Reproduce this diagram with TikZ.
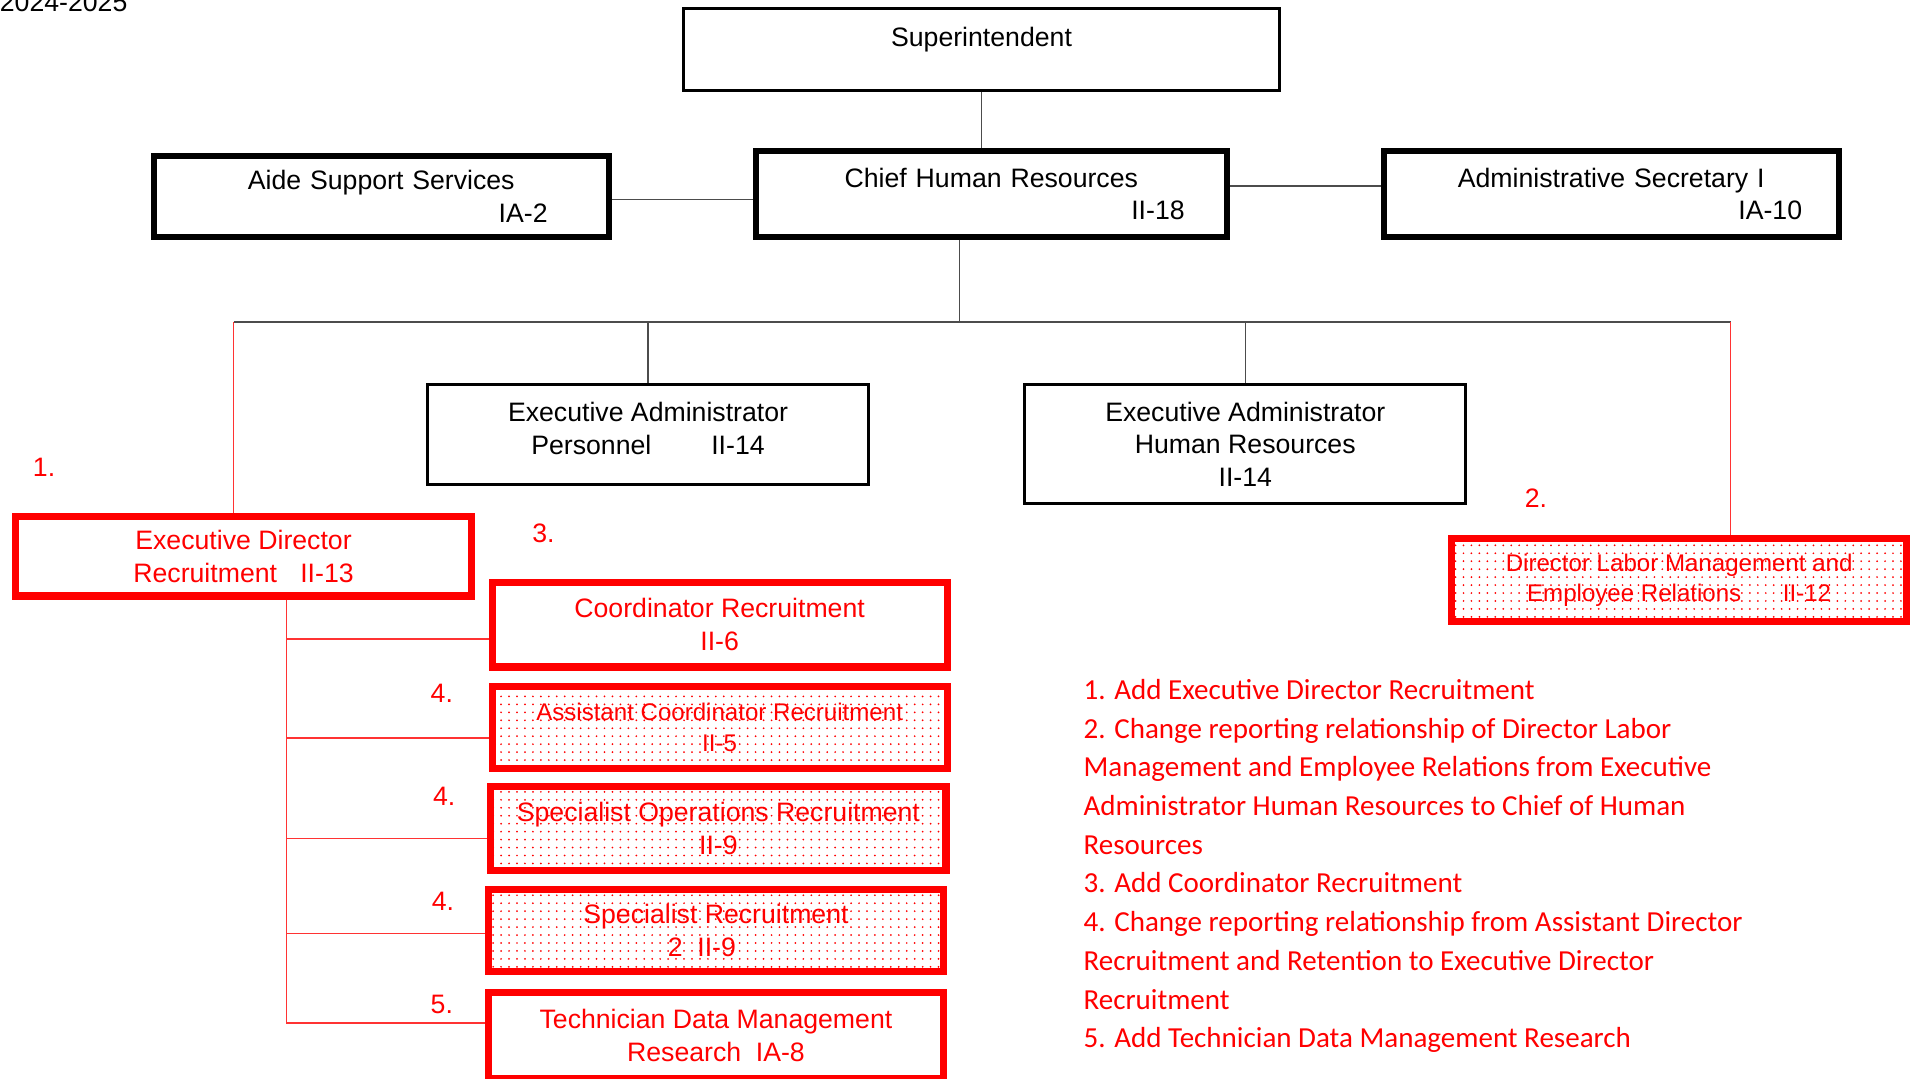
\documentclass[tikz,border=0pt]{standalone}
\usepackage{fontspec}
\setmainfont{Liberation Sans}
\newfontfamily\notefamily{Carlito}
\usetikzlibrary{positioning,calc,patterns.meta}

\newcommand\boxfont{\fontsize{12.4}{15.3}\selectfont}
\newcommand\smallboxfont{\fontsize{11.2}{14.2}\selectfont}
\newcommand\notesfont{\notefamily\fontsize{13.5}{17.9}\selectfont}

\begin{document}
\begin{tikzpicture}[
    x=0.02cm, y=-0.02cm,
    post/.style={rectangle, draw=black, line width=0.1cm, inner sep=0pt, align=center, font=\boxfont},
    thinpost/.style={post, line width=0.05cm},
    newpost/.style={post, draw=red, text=red, line width=0.115cm, minimum width=7.44cm},
    movedpost/.style={newpost, pattern={Dots[distance=0.13cm, radius=0.016cm]}, pattern color=red},
    link/.style={draw=black!70, line width=0.025cm},
    newlink/.style={draw=red!80, line width=0.022cm},
    num/.style={text=red, font=\boxfont, inner sep=0pt, text height=0.716em, text depth=0pt},
    note/.style={text=red, font=\notesfont, anchor=west, inner sep=0pt, text height=0.644em, text depth=0pt}
]
\useasboundingbox (0,0) rectangle (1568,881);

\node[inner sep=0pt, font=\boxfont, text height=0.716em, text depth=0pt] (year) at (52,3) {2024-2025};

% Top of the chart
\node[thinpost, minimum width=9.75cm, minimum height=1.33cm, text depth=0.4cm] (super) at (802,40.5) {Superintendent};
\node[post, minimum width=7.7cm, minimum height=1.4cm, text width=6.32cm] (chief) at (810,158.5) {Chief Human Resources\\ \hfill II-18};
\node[post, minimum width=7.44cm, minimum height=1.32cm, text width=5.44cm] (aide) at (311.5,160.5) {Aide Support Services\\ \hfill IA-2};
\node[post, minimum width=7.44cm, minimum height=1.4cm, text width=6.24cm] (admin) at (1316.5,158.5) {Administrative Secretary I\\ \hfill IA-10};

% Executive administrators
\node[thinpost, minimum width=7.21cm, minimum height=1.63cm, text depth=0.2cm] (exadmP) at (529.5,355) {Executive Administrator\\ Personnel\hspace{0.98cm}II-14};
\node[thinpost, minimum width=7.21cm, minimum height=1.95cm] (exadmHR) at (1017.5,363) {Executive Administrator\\ Human Resources\\ II-14};

% New and moved positions
\node[newpost, minimum height=1.3cm] (exdir) at (199,454.5) {Executive Director\\ Recruitment\hspace{0.38cm}II-13};
\node[newpost, minimum height=1.38cm] (coord) at (588,510.5) {Coordinator Recruitment\\ II-6};
\node[movedpost, minimum height=1.34cm, font=\smallboxfont] (asst) at (588,594.5) {Assistant Coordinator Recruitment\\ II-5};
\node[movedpost, minimum height=1.36cm] (specops) at (587,677) {Specialist Operations Recruitment\\ II-9};
\node[movedpost, minimum height=1.34cm] (specrec) at (585,760.5) {Specialist Recruitment\\ 2\hspace{0.24cm}II-9\hspace*{0.46cm}};
\node[newpost, minimum height=1.4cm] (tech) at (585,846) {Technician Data Management\\ Research\hspace{0.24cm}IA-8};
\node[movedpost, minimum height=1.36cm, font=\smallboxfont] (labor) at (1372,474) {Director Labor Management and\\ Employee Relations\hspace{0.68cm}II-12};

% Change numbers
\foreach \n/\x/\y [count=\i] in {1./36/383, 2./1255/408, 3./444/437, 4./361/568, 4./363/652, 4./362/738, 5./361/822}
    \node[num] (num\i) at (\x,\y) {\n};

% Connections
\coordinate (bus) at (784,263);
\coordinate (busL) at (191,263);
\coordinate (busR) at (1414,263);
\coordinate (spine) at (234,0);

\draw[link] (super.south) -- (super.south |- chief.north);
\draw[link] ([yshift=-0.05cm]aide.east) -- ([yshift=-0.05cm]aide.east -| chief.west);
\draw[link] ([yshift=0.13cm]chief.east) -- ([yshift=0.13cm]chief.east -| admin.west);
\draw[link] (bus |- chief.south) -- (bus);
\draw[link] (busL) -- (busR);
\draw[link] (exadmP.north |- bus) -- (exadmP.north);
\draw[link] (exadmHR.north |- bus) -- (exadmHR.north);

\draw[newlink] (busL) -- (busL |- exdir.north);
\draw[newlink] (busR) -- (busR |- labor.north);
\draw[newlink] (spine |- exdir.south) -- ($(spine |- tech.west)+(0,-10)$);
\foreach \b/\dy in {coord/11.5, asst/8.5, specops/8, specrec/2.5, tech/-10}
    \draw[newlink] ($(spine |- \b.west)+(0,\dy)$) -- ($(\b.west)+(0,\dy)$);

% Notes
\foreach \t [count=\i] in {1. Add Executive Director Recruitment,
    2. Change reporting relationship of Director Labor,
    Management and Employee Relations from Executive,
    Administrator Human Resources to Chief of Human,
    Resources,
    3. Add Coordinator Recruitment,
    4. Change reporting relationship from Assistant Director,
    Recruitment and Retention to Executive Director,
    Recruitment,
    5. Add Technician Data Management Research}
    \node[note] (note\i) at (885,{566+(\i-1)*31.6}) {\t};

\end{tikzpicture}
\end{document}
